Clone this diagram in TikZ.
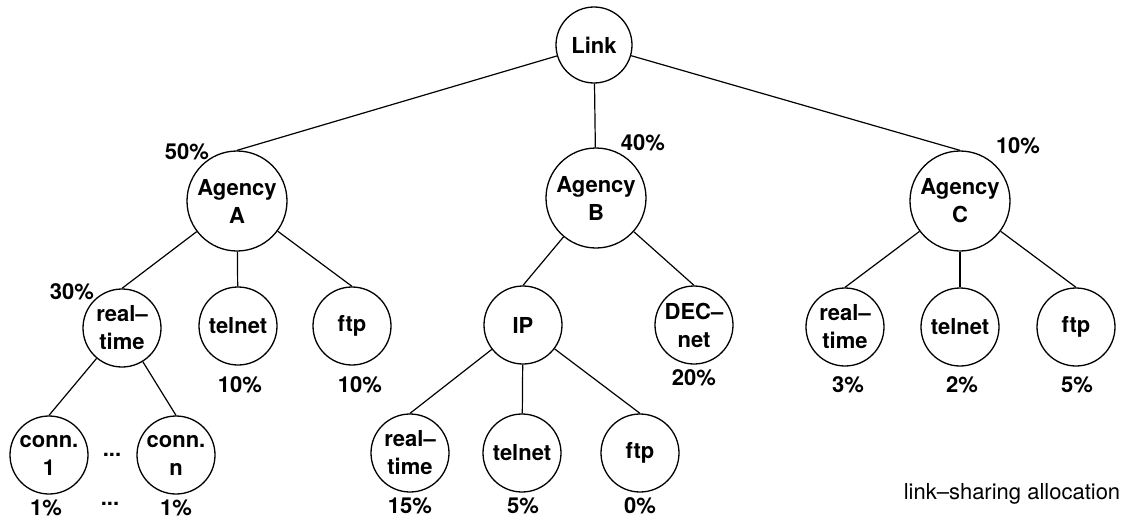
\documentclass[tikz,border=0pt]{standalone}
\usepackage{fontspec}
\setmainfont{TeX Gyre Heros}
\begin{document}
\begin{tikzpicture}[x=1pt,y=-1pt,
  nd/.style={circle,draw,line width=1.3pt,inner sep=0pt,align=center,
    font=\bfseries\fontsize{22}{28}\selectfont},
  big/.style={nd,minimum size=100pt},
  small/.style={nd,minimum size=78pt},
  top/.style={nd,minimum size=76pt},
  pct/.style={inner sep=0pt,font=\bfseries\fontsize{22}{26}\selectfont},
  edge/.style={line width=1.2pt}]
\useasboundingbox (0,0) rectangle (1130,522);
% nodes
\node[top] (link) at (594,45) {Link};
\node[big] (A) at (237,201) {Agency\\A};
\node[big] (B) at (596,198) {Agency\\B};
\node[big] (C) at (960,201) {Agency\\C};
\node[small] (rtA) at (122,328) {real--\\time};
\node[small] (telA) at (238,326) {telnet};
\node[small] (ftpA) at (352,326) {ftp};
\node[small] (IP) at (523,325) {IP};
\node[small] (DEC) at (694,325) {DEC--\\net};
\node[small] (rtC) at (845,327) {real--\\time};
\node[small] (telC) at (960,327) {telnet};
\node[small] (ftpC) at (1076,327) {ftp};
\node[small] (c1) at (49,455) {conn.\\1};
\node[small] (cn) at (176,455) {conn.\\n};
\node[small] (rtI) at (410,453) {real--\\time};
\node[small] (telI) at (522,453) {telnet};
\node[small] (ftpI) at (640,453) {ftp};
% labels
\node[pct] (pA) at (187,152) {50\%};
\node[pct] (pB) at (643,143) {40\%};
\node[pct] (pC) at (1018,146) {10\%};
\node[pct] (prtA) at (72,292) {30\%};
\node[pct] (ptelA) at (240,385) {10\%};
\node[pct] (pftpA) at (360,385) {10\%};
\node[pct] (pDEC) at (694,378) {20\%};
\node[pct] (prtC) at (848,385) {3\%};
\node[pct] (ptelC) at (962,385) {2\%};
\node[pct] (pftpC) at (1077,385) {5\%};
\node[pct] (pc1) at (46,508) {1\%};
\node[pct] (pdots) at (110,504) {...};
\node[pct] (pcn) at (176,508) {1\%};
\node[pct] (ndots) at (112,455) {...};
\node[pct] (prtI) at (410,506) {15\%};
\node[pct] (ptelI) at (523,506) {5\%};
\node[pct] (pftpI) at (640,506) {0\%};
\node[inner sep=0pt,font=\fontsize{22}{26}\selectfont] (cap) at (1012,494) {link--sharing allocation};
% edges
\draw[edge] (link) -- (A.north);
\draw[edge] (link) -- (B);
\draw[edge] (link) -- (C.north);
\draw[edge] (A) -- (rtA.north);
\draw[edge] (A) -- (telA);
\draw[edge] (A) -- (ftpA.north);
\draw[edge] (B) -- (IP.north);
\draw[edge] (B) -- (DEC.north);
\draw[edge] (C) -- (rtC.north);
\draw[edge] (C) -- (telC);
\draw[edge] (C) -- (ftpC.north);
\draw[edge] (rtA) -- (c1.north);
\draw[edge] (rtA) -- (cn.north);
\draw[edge] (IP) -- (rtI.north);
\draw[edge] (IP) -- (telI);
\draw[edge] (IP) -- (ftpI.north);
\end{tikzpicture}
\end{document}
